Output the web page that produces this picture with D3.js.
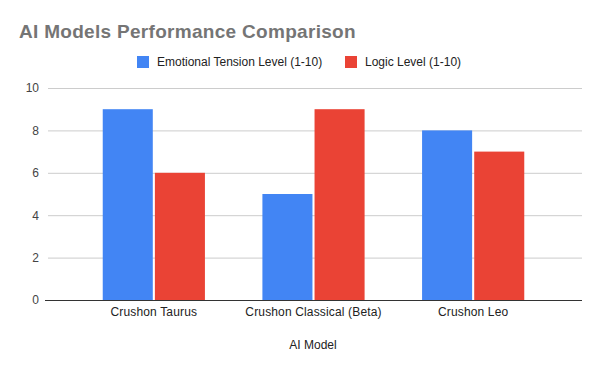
<!DOCTYPE html>
<html>
<head>
<meta charset="utf-8">
<script src="https://cdn.jsdelivr.net/npm/d3@7"></script>
<style>
  body { margin: 0; background: #fff; }
  text { font-family: "Liberation Sans", Arial, sans-serif; }
</style>
</head>
<body>
<svg width="600" height="371"></svg>
<script>
// data
let models = ["Crushon Taurus", "Crushon Classical (Beta)", "Crushon Leo"];
let seriesNames = ["Emotional Tension Level (1-10)", "Logic Level (1-10)"];
let emotional = [9, 5, 8];
let logic = [6, 9, 7];
let yTicks = [0, 2, 4, 6, 8, 10];
let colors = ["#4285F4", "#EA4335"];

let svg = d3.select("svg");
let font = "'Liberation Sans', Arial, sans-serif";

let plotLeft = 45, plotRight = 582;
let x = d3.scaleBand().domain(models).range([74, 553]).paddingInner(0.36).paddingOuter(0.18);
let xs = d3.scaleBand().domain(seriesNames).range([0, x.bandwidth()]).paddingInner(0.04);
let y = d3.scaleLinear().domain([0, 10]).range([300, 88]);

// title
svg.append("text")
    .attr("x", 19)
    .attr("y", 38)
    .attr("font-size", "19px")
    .attr("font-weight", "bold")
    .attr("letter-spacing", "0.3px")
    .attr("fill", "#757575")
    .text("AI Models Performance Comparison");

// legend
let legendX = [137, 345];
seriesNames.forEach((name, i) => {
    svg.append("rect")
        .attr("x", legendX[i])
        .attr("y", 56)
        .attr("width", 12)
        .attr("height", 12)
        .attr("fill", colors[i]);
    svg.append("text")
        .attr("x", legendX[i] + 20)
        .attr("y", 66)
        .attr("font-size", "12px")
        .attr("fill", "#222")
        .text(name);
});

// gridlines
svg.append("g").selectAll("line")
    .data(yTicks.filter(d => d > 0))
    .join("line")
    .attr("x1", 48)
    .attr("x2", plotRight)
    .attr("y1", d => y(d) + 0.5)
    .attr("y2", d => y(d) + 0.5)
    .attr("stroke", "#ccc")
    .attr("stroke-width", 1);

// y axis labels
let yAxis = d3.axisLeft(y).tickValues(yTicks).tickSize(0).tickPadding(0);
let yg = svg.append("g")
    .attr("transform", "translate(39,0)")
    .call(yAxis);
yg.select(".domain").remove();
yg.selectAll("text")
    .attr("font-size", "12px")
    .attr("font-family", font)
    .attr("fill", "#444");

// bars
let rows = models.map((m, i) => ({model: m, values: [emotional[i], logic[i]]}));
svg.append("g").selectAll("g")
    .data(rows)
    .join("g")
    .attr("transform", d => "translate(" + x(d.model) + ",0)")
    .selectAll("rect")
    .data(d => d.values.map((v, i) => ({series: seriesNames[i], value: v, i: i})))
    .join("rect")
    .attr("x", d => xs(d.series))
    .attr("y", d => y(d.value))
    .attr("width", xs.bandwidth())
    .attr("height", d => y(0) - y(d.value))
    .attr("fill", d => colors[d.i]);

// baseline
svg.append("line")
    .attr("x1", plotLeft)
    .attr("x2", plotRight)
    .attr("y1", y(0) + 0.5)
    .attr("y2", y(0) + 0.5)
    .attr("stroke", "#333")
    .attr("stroke-width", 1);

// x axis labels
let xAxis = d3.axisBottom(x).tickSize(0).tickPadding(0);
let xg = svg.append("g")
    .attr("transform", "translate(0,307)")
    .call(xAxis);
xg.select(".domain").remove();
xg.selectAll("text")
    .attr("font-size", "12px")
    .attr("font-family", font)
    .attr("letter-spacing", "0.15px")
    .attr("fill", "#222");

// x axis title
svg.append("text")
    .attr("x", 313)
    .attr("y", 349)
    .attr("text-anchor", "middle")
    .attr("font-size", "12px")
    .attr("fill", "#222")
    .text("AI Model");
</script>
</body>
</html>
